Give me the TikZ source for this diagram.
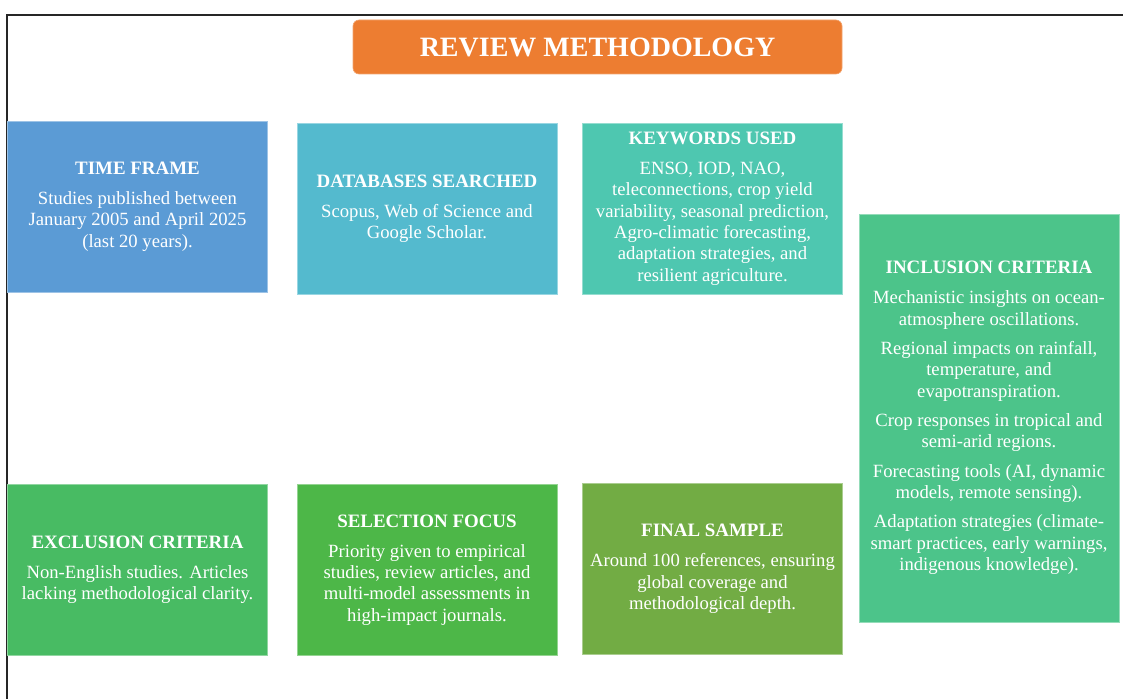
\documentclass[tikz,border=0pt]{standalone}
\usepackage{fontspec}
\setmainfont{Liberation Serif}
\usepackage{tikz}

\definecolor{titleorange}{HTML}{ED7D31}
\definecolor{timeblue}{HTML}{5B9BD5}
\definecolor{dbteal}{HTML}{54BACE}
\definecolor{kwaqua}{HTML}{4EC7B0}
\definecolor{inclgreen}{HTML}{4CC48A}
\definecolor{exclgreen}{HTML}{48BB63}
\definecolor{selgreen}{HTML}{4DB748}
\definecolor{finalgreen}{HTML}{72AC44}

\newcommand{\cardhead}[1]{{\bfseries\fontsize{14.2}{16}\selectfont #1}}

\begin{document}
\begin{tikzpicture}[x=0.75pt,y=-0.75pt,
  card/.style={fill=#1,draw=#1!60!white,line width=0.5pt,minimum width=195pt,minimum height=128pt,
    align=center,text=white,inner sep=0pt,font=\fontsize{14}{16}\selectfont},
  tall/.style={minimum height=306pt}]
\useasboundingbox (0,0) rectangle (1123,699);
\draw[line width=1pt,black!85] (1123,15) -- (7,15) -- (7,699);

% heading bar
\node[fill=titleorange,draw=titleorange!70!white,line width=0.5pt,rounded corners=4.5pt,
  minimum width=366.75pt,minimum height=40.5pt,text=white,
  font=\bfseries\fontsize{21}{24}\selectfont] (title) at (597.5,47) {REVIEW METHODOLOGY};

% top row
\node[card=timeblue] (timeframe) at (137.5,206.5) {\cardhead{TIME FRAME}\\[6.5pt]
Studies published between\\January 2005 and April 2025\\(last 20 years).};
\node[card=dbteal] (databases) at (427,208.5) {\cardhead{DATABASES SEARCHED}\\[6.5pt]
Scopus, Web of Science and\\Google Scholar.};
\node[card=kwaqua] (keywords) at (712.5,208.5) {\cardhead{KEYWORDS USED}\\[6.5pt]
ENSO, IOD, NAO,\\teleconnections, crop yield\\variability, seasonal prediction,\\Agro-climatic forecasting,\\adaptation strategies, and\\resilient agriculture.};

% right column
\node[card=inclgreen,tall] (inclusion) at (989,418) {\cardhead{INCLUSION CRITERIA}\\[6.5pt]
Mechanistic insights on ocean-\\atmosphere oscillations.\\[6pt]
Regional impacts on rainfall,\\temperature, and\\evapotranspiration.\\[6pt]
Crop responses in tropical and\\semi-arid regions.\\[6pt]
Forecasting tools (AI, dynamic\\models, remote sensing).\\[6pt]
Adaptation strategies (climate-\\smart practices, early warnings,\\indigenous knowledge).};

% bottom row
\node[card=exclgreen] (exclusion) at (137.5,570) {\cardhead{EXCLUSION CRITERIA}\\[6.5pt]
Non-English studies. Articles\\lacking methodological clarity.};
\node[card=selgreen] (selection) at (427,570) {\cardhead{SELECTION FOCUS}\\[6.5pt]
Priority given to empirical\\studies, review articles, and\\multi-model assessments in\\high-impact journals.};
\node[card=finalgreen] (finalsample) at (712.5,569) {\cardhead{FINAL SAMPLE}\\[6.5pt]
Around 100 references, ensuring\\global coverage and\\methodological depth.};
\end{tikzpicture}
\end{document}
